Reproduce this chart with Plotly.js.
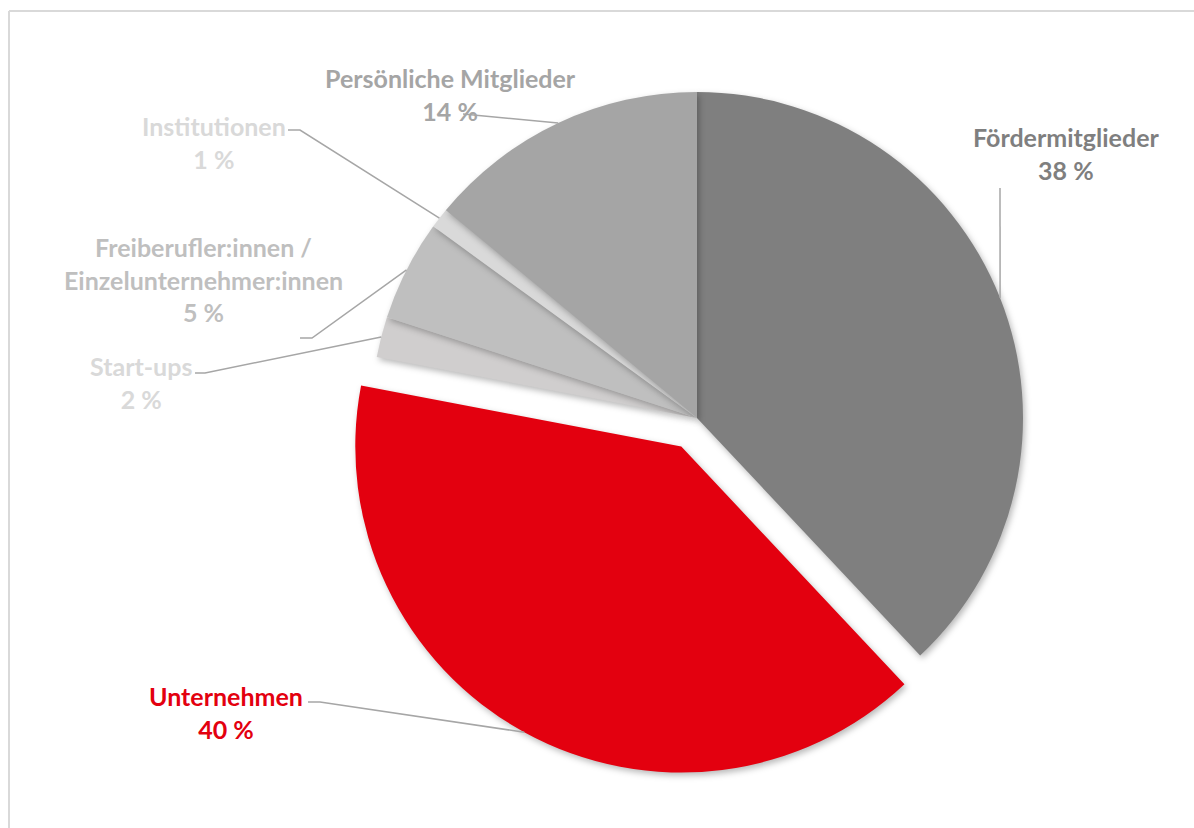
<!DOCTYPE html>
<html>
<head>
<meta charset="utf-8">
<script src="https://cdn.plot.ly/plotly-3.0.1.min.js"></script>
<style>
  html, body { margin: 0; padding: 0; background: #ffffff; }
  #chart { width: 1194px; height: 828px; }
  .pielayer .slice path.surface { filter: drop-shadow(2px 3px 3px rgba(0,0,0,0.28)); }
</style>
</head>
<body>
<div id="chart"></div>
<script>
// ---------- data ----------
const categories = ['Fördermitglieder', 'Unternehmen', 'Start-ups', 'Freiberufler:innen /<br>Einzelunternehmer:innen', 'Institutionen', 'Persönliche Mitglieder'];
const values = [38, 40, 2, 5, 1, 14];
const sliceColors = ['#7f7f7f', '#e3000f', '#d0cece', '#bfbfbf', '#d9d9d9', '#a5a5a5'];
const textColors = ['#7f7f7f', '#e3000f', '#d9d9d9', '#bfbfbf', '#d9d9d9', '#a5a5a5'];
const pulls = [0, 0.1, 0, 0, 0, 0];

// ---------- layout (label placement in pixels) ----------
const W = 1194, H = 828;
const domX = [0.2834, 0.8841], domY = [0.0621, 0.9283];
const labelCenters = [[1066, 154], [226, 712], [141, 382], [203, 280], [214, 142], [450, 95]];
const leaderStarts = [
  [[1000, 188]],
  [[308, 702], [320, 702]],
  [[195, 373], [205, 373]],
  [[300, 338], [312, 338]],
  [[288, 130], [300, 130]],
  [[463, 114]]
];

const px = x => x / W;
const py = y => 1 - y / H;

// pie geometry as Plotly computes it
const maxPull = Math.max(...pulls);
const cx = W * (domX[0] + domX[1]) / 2;
const cy = H * (1 - (domY[0] + domY[1]) / 2);
const r = Math.min(W * (domX[1] - domX[0]), H * (domY[1] - domY[0])) / (2 + 2 * maxPull);
const total = values.reduce((a, b) => a + b, 0);

const annotations = [];
const shapes = [];
let cum = 0;
values.forEach((v, i) => {
  const theta = 2 * Math.PI * (cum + v / 2) / total;
  cum += v;
  const sx = Math.sin(theta), sy = -Math.cos(theta);
  const ox = cx + pulls[i] * r * sx, oy = cy + pulls[i] * r * sy;
  const ax = ox + r * sx, ay = oy + r * sy;
  const pts = leaderStarts[i].concat([[ax, ay]]);
  const path = pts.map((p, k) => (k ? 'L' : 'M') + px(p[0]).toFixed(5) + ',' + py(p[1]).toFixed(5)).join(' ');
  shapes.push({ type: 'path', xref: 'paper', yref: 'paper', path: path, line: { color: '#a6a6a6', width: 1.5 }, layer: 'above' });
  annotations.push({
    xref: 'paper', yref: 'paper', x: px(labelCenters[i][0]), y: py(labelCenters[i][1]),
    xanchor: 'center', yanchor: 'middle', showarrow: false, align: 'center',
    text: '<b>' + categories[i] + '<br>' + v + ' %</b>',
    font: { family: 'Lato, "Open Sans", sans-serif', size: 25, color: textColors[i] }
  });
});

// frame (top and left border)
shapes.push({ type: 'line', xref: 'paper', yref: 'paper', x0: px(9), y0: py(11), x1: px(1194), y1: py(11), line: { color: '#d9d9d9', width: 2 } });
shapes.push({ type: 'line', xref: 'paper', yref: 'paper', x0: px(9), y0: py(11), x1: px(9), y1: py(828), line: { color: '#d9d9d9', width: 2 } });

const trace = {
  type: 'pie',
  labels: categories,
  values: values,
  sort: false,
  direction: 'clockwise',
  rotation: 0,
  pull: pulls,
  textinfo: 'none',
  hoverinfo: 'label+percent',
  marker: { colors: sliceColors, line: { width: 0 } },
  domain: { x: domX, y: domY },
  showlegend: false
};

Plotly.newPlot('chart', [trace], {
  width: W, height: H,
  margin: { l: 0, r: 0, t: 0, b: 0 },
  paper_bgcolor: '#ffffff',
  showlegend: false,
  annotations: annotations,
  shapes: shapes
}, { displayModeBar: false, staticPlot: true });
</script>
</body>
</html>
